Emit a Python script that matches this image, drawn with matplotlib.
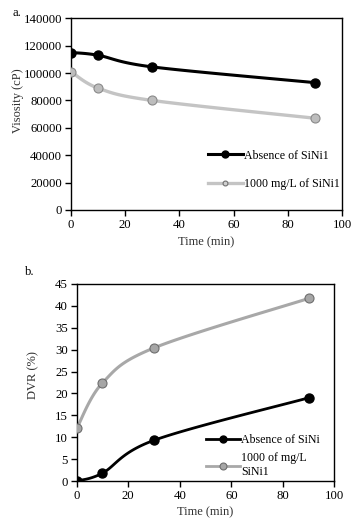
import numpy as np
import matplotlib
matplotlib.use("Agg")
import matplotlib.pyplot as plt

# ---- data ----
time_min = [0, 10, 30, 90]
visc_absence = [115000, 113000, 104500, 93000]
visc_1000 = [101000, 89000, 80000, 67000]
dvr_absence = [0, 1.8, 9.3, 19.0]
dvr_1000 = [12.0, 22.4, 30.4, 41.7]

label_a1 = "Absence of SiNi1"
label_a2 = "1000 mg/L of SiNi1"
label_b1 = "Absence of SiNi"
label_b2 = "1000 of mg/L\nSiNi1"

plt.rcParams['font.family'] = ['Liberation Serif', 'DejaVu Serif']
plt.rcParams['font.size'] = 9


def smooth(x, y, n=30):
    """Catmull-Rom style smoothing (like Excel's smoothed line) for drawing."""
    x = np.asarray(x, float); y = np.asarray(y, float)
    P = np.column_stack([x, y])
    P = np.vstack([P[0], P, P[-1]])
    out = []
    for i in range(1, len(P) - 2):
        p0, p1, p2, p3 = P[i - 1], P[i], P[i + 1], P[i + 2]
        c1 = p1 + (p2 - p0) / 6.0
        c2 = p2 - (p3 - p1) / 6.0
        t = np.linspace(0, 1, n)[:, None]
        b = ((1 - t) ** 3) * p1 + 3 * ((1 - t) ** 2) * t * c1 + 3 * (1 - t) * t ** 2 * c2 + t ** 3 * p2
        out.append(b if i == 1 else b[1:])
    B = np.vstack(out)
    return B[:, 0], B[:, 1]


fig = plt.figure(figsize=(3.54, 5.23), dpi=100)

black = "#000000"
gray_line_a = "#C4C4C4"
gray_line_b = "#A8A8A8"
gray_face = "#A6A6A6"
gray_edge = "#6E6E6E"
lab_col = "#303030"


def style(ax):
    for s in ax.spines.values():
        s.set_linewidth(1.0)
        s.set_color("black")
    ax.tick_params(direction='out', length=4, width=1, labelsize=9.2, colors='black', pad=2.5)


# ---- panel a ----
ax1 = fig.add_axes([0.2006, 0.5985, 0.766, 0.3665])
xs, ys = smooth(time_min, visc_absence)
ax1.plot(xs, ys, color=black, lw=2.2, zorder=2)
ax1.plot(time_min, visc_absence, 'o', color=black, ms=6.5, zorder=3)
xs, ys = smooth(time_min, visc_1000)
ax1.plot(xs, ys, color=gray_line_a, lw=2.4, zorder=2)
ax1.plot(time_min, visc_1000, 'o', mfc="#BDBDBD", mec="#8A8A8A", mew=0.8, ms=6.5, zorder=3)
ax1.set_xlim(0, 100)
ax1.set_ylim(0, 140000)
ax1.set_xticks(np.arange(0, 101, 20))
ax1.set_yticks(np.arange(0, 140001, 20000))
ax1.set_xlabel("Time (min)", color=lab_col, labelpad=4)
ax1.set_ylabel("Visosity (cP)", color=lab_col)
ax1.yaxis.set_label_coords(-0.175, 0.57)
style(ax1)
h1 = ax1.plot([], [], '-o', color=black, lw=2.2, ms=5)[0]
h2 = ax1.plot([], [], '-o', color=gray_line_a, lw=2.4, ms=3.5, mfc="#D0D0D0", mec="#707070", mew=0.8)[0]
ax1.legend([h1, h2], [label_a1, label_a2], loc='upper left', bbox_to_anchor=(0.505, 0.315),
           frameon=False, handlelength=2.9, handletextpad=0.1, labelspacing=1.35,
           borderpad=0, borderaxespad=0, fontsize=8.6)
fig.text(0.036, 0.975, "a.", fontsize=9, va='center', ha='left')

# ---- panel b ----
ax2 = fig.add_axes([0.2167, 0.0803, 0.728, 0.3767])
xs, ys = smooth(time_min, dvr_1000)
ax2.plot(xs, ys, color=gray_line_b, lw=2.2, zorder=2)
ax2.plot(time_min, dvr_1000, 'o', mfc=gray_face, mec=gray_edge, mew=0.8, ms=6.5, zorder=3)
xs, ys = smooth(time_min, dvr_absence)
ax2.plot(xs, ys, color=black, lw=2.0, zorder=2)
ax2.plot(time_min, dvr_absence, 'o', color=black, ms=6.5, zorder=3)
ax2.set_xlim(0, 100)
ax2.set_ylim(0, 45)
ax2.set_xticks(np.arange(0, 101, 20))
ax2.set_yticks(np.arange(0, 46, 5))
ax2.set_xlabel("Time (min)", color=lab_col, labelpad=3)
ax2.set_ylabel("DVR (%)", color=lab_col)
ax2.yaxis.set_label_coords(-0.145, 0.54)
style(ax2)
g1 = ax2.plot([], [], '-o', color=black, lw=2.0, ms=5)[0]
g2 = ax2.plot([], [], '-o', color=gray_line_b, lw=2.0, ms=5, mfc=gray_face, mec=gray_edge, mew=0.8)[0]
ax2.legend([g1, g2], [label_b1, label_b2], loc='upper left', bbox_to_anchor=(0.50, 0.24),
           frameon=False, handlelength=2.9, handletextpad=0.1, labelspacing=0.55,
           borderpad=0, borderaxespad=0, fontsize=8.6)
fig.text(0.07, 0.48, "b.", fontsize=9, va='center', ha='left')

fig.savefig("out.png", dpi=100)
